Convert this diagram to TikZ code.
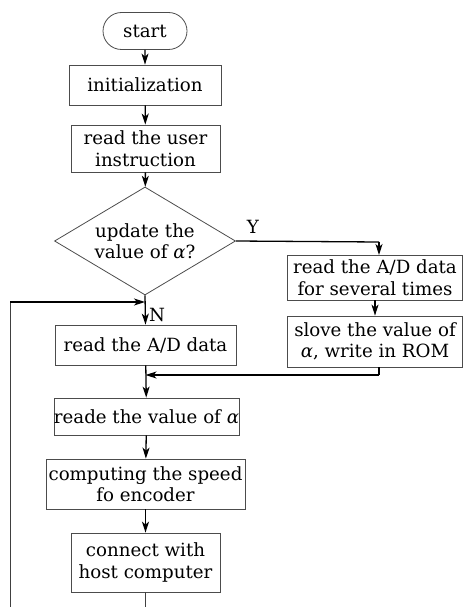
\documentclass[tikz,border=0pt]{standalone}
\usepackage{fontspec}
\setmainfont{DejaVu Serif}
\usetikzlibrary{shapes.geometric,shapes.misc,arrows.meta}
\begin{document}
\begin{tikzpicture}[x=1pt,y=-1pt,
  box/.style={draw=black!70,line width=0.8pt,inner sep=0pt,align=center,
    font=\fontsize{18.2}{21.5}\selectfont},
  term/.style={box,rounded rectangle},
  dec/.style={box,diamond,aspect=1.68,inner sep=0pt},
  lbl/.style={font=\fontsize{18.2}{21.5}\selectfont,inner sep=0pt},
  flow/.style={line width=1.3pt,-{Stealth[length=11pt,width=7pt,inset=3pt]}},
  plain/.style={line width=1.3pt},
  thin/.style={line width=0.8pt,draw=black!75}]
\useasboundingbox (0,0) rectangle (463,607);
\node[term,minimum width=84pt,minimum height=37pt] (start) at (145,31) {start};
\node[box,minimum width=152pt,minimum height=40pt] (init) at (145,85) {initialization};
\node[box,minimum width=149pt,minimum height=47pt] (user) at (145.5,148.5) {read the user\\instruction};
\node[dec,minimum width=181pt,minimum height=108pt] (dia) at (145,241) {update the\\value of \textit{α}?};
\node[lbl] (y) at (253,227) {Y};
\node[box,minimum width=175pt,minimum height=45pt] (rd1) at (375,277.5) {read the A/D data\\for several times};
\node[box,minimum width=175pt,minimum height=51pt] (rd2) at (375,341.5) {slove the value of\\\textit{α}, write in ROM};
\node[box,minimum width=181pt,minimum height=40pt] (ad) at (145.5,345) {read the A/D data};
\node[lbl,anchor=west] (n) at (149,315) {N};
\node[box,minimum width=183pt,minimum height=37pt] (val) at (146.5,416.5) {reade the value of \textit{α}};
\node[box,minimum width=199pt,minimum height=50pt] (comp) at (145.5,484) {computing the speed\\fo encoder};
\node[box,minimum width=149pt,minimum height=59pt] (conn) at (145.5,562.5) {connect with\\host computer};
\coordinate (ycorner) at (379,242);
\coordinate (yend) at (379,255);
\coordinate (rd2out) at (379,367);
\coordinate (rcorner) at (379,375);
\coordinate (rjoin) at (145.5,375);
\coordinate (ljoin) at (145,302);
\coordinate (lbot) at (10,607);
\coordinate (ltop) at (10,302);
\coordinate (mbot) at (145.5,607);
\draw[flow] (start) -- (init);
\draw[flow] (init) -- (user);
\draw[flow] (user) -- (dia);
\draw[flow] (dia.south) -- (ad.north);
\draw[plain] (dia.east) -- (ycorner);
\draw[flow] (ycorner) -- (yend);
\draw[flow] (rd1) -- (rd2.north -| rd1.south);
\draw[plain] (rd2out) -- (rcorner);
\draw[flow] (rcorner) -- (rjoin);
\draw[flow] (ad) -- (val);
\draw[flow] (val) -- (comp);
\draw[flow] (comp) -- (conn);
\draw[thin] (conn.south) -- (mbot);
\draw[thin] (lbot) -- (ltop);
\draw[flow] (ltop) -- (ljoin);
\end{tikzpicture}
\end{document}
